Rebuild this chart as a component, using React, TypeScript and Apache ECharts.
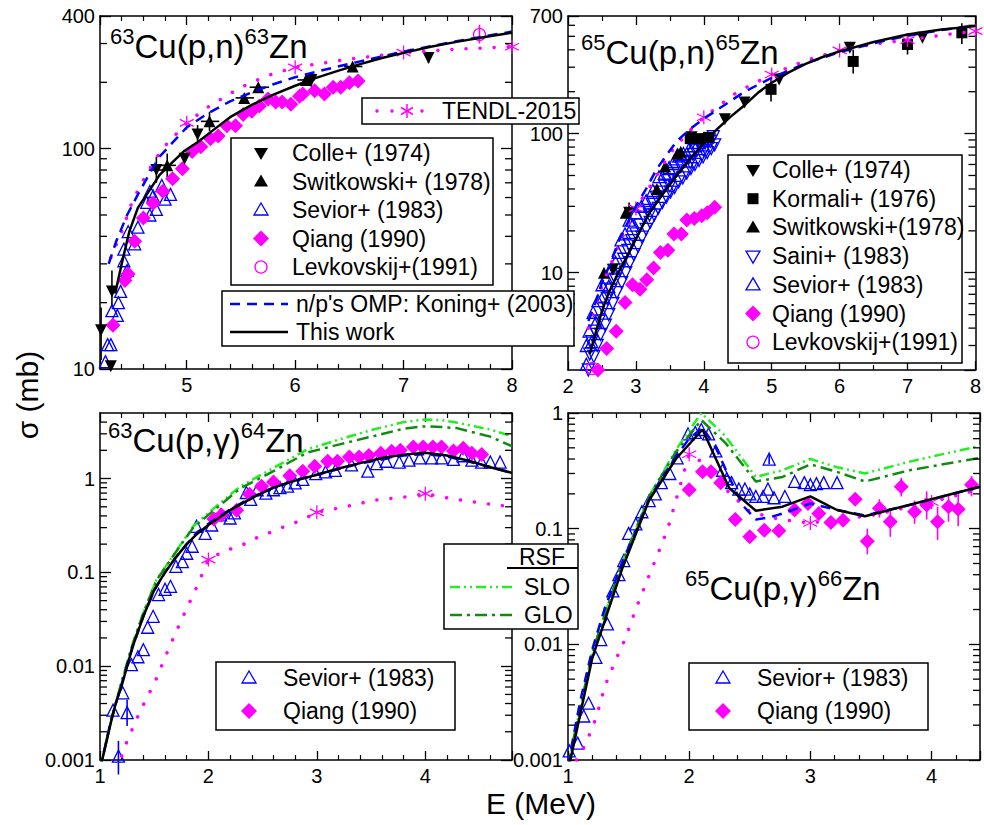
import React, { useEffect, useRef } from 'react';
import * as echarts from 'echarts';

const FONT = '"Liberation Sans", Arial, sans-serif';
const BLUE = '#0000ff';
const MAG = '#ff00ff';
const SLO_C = '#22ee22';
const GLO_C = '#128a12';

// ---------------- axis ranges ----------------
const xMin = [4.2, 2, 1, 1];
const xMax = [8, 8, 4.8, 4.4];
const yMin = [10, 2, 0.001, 0.001];
const yMax = [400, 700, 5, 1];
const xMinorSplit = [5, 2, 5, 5];

// ---------------- Panel 1: 63Cu(p,n)63Zn ----------------
const p1ThisWork = [[4.34,22],[4.4,30],[4.47,42],[4.55,54],[4.65,64],[4.75,76],[4.85,85],[4.97,97],[5.1,107],[5.25,122],[5.4,139],[5.6,158],[5.8,176],[6.0,193],[6.2,210],[6.4,226],[6.6,242],[6.8,258],[7.0,272],[7.25,290],[7.5,306],[7.75,321],[8.0,336]];
const p1Koning = [[4.28,30],[4.35,38],[4.45,50],[4.55,62],[4.65,76],[4.75,92],[4.85,104],[5.0,125],[5.2,145],[5.4,164],[5.6,180],[5.8,196],[6.0,211],[6.3,230],[6.6,249],[7.0,276],[7.5,308],[8.0,340]];
const p1Tendl = [[4.3,32],[4.4,42],[4.5,58],[4.6,72],[4.7,88],[4.8,103],[5.0,131],[5.2,155],[5.5,190],[5.75,215],[6.0,234],[6.5,255],[7.0,273],[7.5,283],[8.0,290]];
const p1TendlMarks = [[5,131],[6,234],[7,273],[8,290]];
const p1Colle = [[4.21,15],[4.3,10.3],[4.31,22.5],[4.72,80],[4.98,90],[5.1,116],[6.15,205],[7.23,258]];
const p1Switkowski = [[4.82,84],[5.21,133],[5.53,170],[5.66,190],[6.1,205],[6.53,236]];
const p1Sevior = [[4.25,10.8],[4.27,12.9],[4.3,12.9],[4.31,18.4],[4.36,17.5],[4.37,20],[4.39,22.5],[4.45,28],[4.42,31],[4.42,35],[4.46,42],[4.52,37],[4.55,44],[4.63,57],[4.66,50],[4.66,64],[4.72,53],[4.77,68],[4.85,62],[4.8,59],[4.69,61]];
const p1Qiang = [[4.32,15.8],[4.43,25.2],[4.46,27],[4.52,38],[4.6,48.5],[4.69,56.5],[4.78,64],[4.87,73],[4.96,81],[5.05,97],[5.13,102],[5.22,111],[5.29,114],[5.37,127],[5.45,127],[5.52,143],[5.6,148],[5.67,156],[5.75,168],[5.82,163],[5.88,163],[5.96,159],[6.04,173],[6.07,177],[6.18,183],[6.27,177],[6.35,190],[6.42,190],[6.5,199],[6.58,203]];
const p1Levkovskij = [[7.7,330]];
const p1ErrV = [[4.21,11,19],[4.31,19,28],[4.72,70,92],[4.82,74,95],[5.1,106,128],[5.21,120,147],[6.15,190,222],[7.23,245,272]];
const p1ErrH = [[4.65,80,4.8],[4.74,84,4.9],[5.13,133,5.3],[5.45,170,5.62],[5.58,190,5.76],[6.02,205,6.18],[6.45,236,6.62]];
const p1LevErr = [[7.7,300,365]];

// ---------------- Panel 2: 65Cu(p,n)65Zn ----------------
const p2ThisWork = [[2.32,2.6],[2.4,3.6],[2.5,5.3],[2.6,7.2],[2.75,10.2],[2.9,14],[3.0,17.5],[3.2,27],[3.4,37],[3.6,50],[3.8,66],[4.0,86],[4.2,108],[4.4,133],[4.6,160],[4.8,197],[5.0,232],[5.25,275],[5.5,317],[5.75,355],[6.0,390],[6.5,455],[7.0,515],[7.5,560],[8.0,592]];
const p2Koning = [[2.3,4.5],[2.4,6],[2.5,8.5],[2.6,11],[2.75,17],[2.9,24],[3.0,30],[3.15,40],[3.3,55],[3.45,70],[3.6,88],[3.8,108],[4.0,128],[4.3,160],[4.6,200],[5.0,252],[5.5,320],[6.0,385],[6.5,445],[7.0,505],[7.5,555],[8.0,600]];
const p2Tendl = [[2.3,4],[2.5,8],[2.75,16],[3.0,29],[3.25,45],[3.5,72],[3.75,100],[4.0,131],[4.5,200],[5.0,266],[5.5,335],[6.0,396],[6.5,440],[7.0,470],[7.5,510],[8.0,545]];
const p2TendlMarks = [[3,29],[4,131],[5,266],[6,396],[7,470],[8,545]];
const p2Colle = [[2.66,10.5],[2.9,27],[3.82,94],[4.31,127],[4.6,167],[5.11,245],[6.15,414],[7.22,488]];
const p2Kormali = [[3.8,92],[3.95,92],[4.07,94],[4.99,208],[6.2,330],[7.0,437],[7.8,530]];
const p2Switkowski = [[2.53,10],[2.85,27],[3.31,40],[3.43,58],[3.61,72],[3.66,74]];
const p2Saini = [[2.30,2.0],[2.32,2.6],[2.35,3.2],[2.38,2.5],[2.40,3.8],[2.43,3.0],[2.46,4.5],[2.48,3.6],[2.52,5.5],[2.55,4.2],[2.58,6.5],[2.60,5.0],[2.63,7.5],[2.66,6.0],[2.70,9.0],[2.72,7.2],[2.76,10.5],[2.79,8.5],[2.82,12.5],[2.85,10.0],[2.88,14.5],[2.91,11.8],[2.94,17],[2.97,13.5],[3.00,19],[3.03,15.5],[3.06,22],[3.09,18],[3.12,25],[3.15,20.5],[3.18,28],[3.21,23],[3.24,31],[3.27,26],[3.30,35],[3.33,29],[3.36,38],[3.39,32],[3.42,42],[3.45,35],[3.48,46],[3.51,38],[3.54,50],[3.57,41],[3.60,54],[3.63,45],[3.66,58],[3.69,48],[3.72,63],[3.75,52],[3.78,67],[3.81,56],[3.84,71],[3.87,60],[3.90,76],[3.93,64],[3.96,81],[3.99,68],[4.02,86],[4.05,73],[4.08,90],[4.11,78],[4.14,95],[4.16,83],[2.9,16],[3.2,26],[3.5,42],[3.8,62],[4.0,75],[4.1,88]];
const p2Sevior = [[2.27,2.2],[2.27,3.0],[2.31,3.8],[2.35,3.2],[2.37,5.2],[2.41,4.4],[2.44,6.3],[2.5,8.2],[2.52,6.8],[2.56,9.3],[2.6,8.0],[2.64,10.8],[2.7,11.9],[2.74,14],[2.78,17.2],[2.84,19],[2.9,23.9],[2.95,22],[3.0,27],[3.08,30],[3.15,33],[3.25,39],[3.34,49],[3.42,52],[3.49,57],[3.56,63],[3.63,69],[3.7,72],[3.78,77],[3.85,82],[3.92,86]];
const p2Qiang = [[2.44,2.0],[2.57,2.86],[2.71,3.8],[2.84,6.1],[2.95,8.2],[3.06,7.6],[3.16,8.9],[3.26,10.8],[3.36,14],[3.47,14.5],[3.56,19],[3.67,19],[3.75,23.9],[3.86,24.5],[3.97,25.7],[4.05,27],[4.16,29.5]];
const p2Levkovskij = [[2.36,2.05]];
const p2ErrV = [[2.9,23,32],[3.8,80,108],[4.99,170,250],[6.2,270,400],[7.0,370,520],[7.8,440,620],[6.15,385,445]];

// ---------------- Panel 3: 63Cu(p,g)64Zn ----------------
const p3ThisWork = [[1.0,0.0008],[1.05,0.0014],[1.1,0.0025],[1.15,0.0042],[1.2,0.0062],[1.3,0.016],[1.4,0.034],[1.5,0.065],[1.6,0.1],[1.7,0.145],[1.8,0.2],[1.9,0.26],[2.0,0.32],[2.2,0.46],[2.4,0.62],[2.6,0.8],[2.8,0.95],[3.0,1.1],[3.2,1.28],[3.4,1.46],[3.6,1.66],[3.8,1.8],[4.0,1.88],[4.2,1.76],[4.4,1.55],[4.6,1.32],[4.8,1.15]];
const p3Koning = [[1.0,0.0008],[1.1,0.0026],[1.2,0.0065],[1.3,0.016],[1.4,0.034],[1.5,0.064],[1.6,0.1],[1.7,0.145],[1.8,0.2],[1.9,0.27],[2.0,0.33],[2.2,0.47],[2.4,0.63],[2.6,0.8],[2.8,0.96],[3.0,1.1],[3.4,1.45],[3.8,1.76],[4.0,1.82],[4.2,1.72],[4.4,1.52],[4.6,1.33],[4.8,1.15]];
const p3Slo = [[1.0,0.0008],[1.1,0.0026],[1.2,0.0068],[1.3,0.017],[1.4,0.037],[1.52,0.083],[1.6,0.113],[1.7,0.167],[1.86,0.31],[2.0,0.43],[2.29,0.82],[2.6,1.3],[2.91,2.04],[3.2,2.6],[3.52,3.33],[3.8,4.0],[3.98,4.25],[4.15,4.2],[4.29,3.95],[4.6,3.33],[4.8,2.83]];
const p3Glo = [[1.0,0.0008],[1.1,0.0026],[1.2,0.0068],[1.3,0.017],[1.4,0.037],[1.52,0.082],[1.6,0.112],[1.7,0.165],[1.86,0.3],[2.0,0.41],[2.29,0.78],[2.6,1.2],[2.91,1.89],[3.2,2.3],[3.52,2.83],[3.8,3.4],[3.98,3.6],[4.15,3.55],[4.29,3.45],[4.6,2.8],[4.8,2.21]];
const p3Tendl = [[1.2,0.0011],[1.25,0.0016],[1.37,0.0033],[1.51,0.0069],[1.63,0.015],[1.75,0.031],[1.88,0.065],[2.0,0.137],[2.15,0.17],[2.29,0.19],[2.43,0.23],[2.57,0.266],[2.71,0.31],[2.86,0.36],[3.0,0.437],[3.26,0.5],[3.54,0.59],[3.83,0.64],[4.0,0.69],[4.24,0.61],[4.51,0.55],[4.8,0.5]];
const p3TendlMarks = [[2,0.137],[3,0.437],[4,0.69]];
const p3Sevior = [[1.12,0.0034],[1.17,0.0011],[1.21,0.0052],[1.25,0.0032],[1.29,0.0104],[1.35,0.0126],[1.4,0.015],[1.44,0.026],[1.49,0.034],[1.54,0.058],[1.6,0.066],[1.65,0.071],[1.7,0.116],[1.76,0.13],[1.8,0.16],[1.85,0.19],[1.89,0.31],[1.97,0.26],[2.03,0.32],[2.11,0.41],[2.2,0.38],[2.24,0.43],[2.35,0.71],[2.39,0.6],[2.45,0.76],[2.53,0.7],[2.6,0.76],[2.66,0.8],[2.73,0.83],[2.8,0.9],[2.87,0.98],[2.99,1.13],[3.08,1.18],[3.17,1.22],[3.32,1.4],[3.47,1.2],[3.55,1.44],[3.64,1.53],[3.76,1.5],[3.85,1.57],[3.95,1.66],[4.06,1.66],[4.15,1.66],[4.26,1.6],[4.35,1.75],[4.43,1.57],[4.52,1.5],[4.6,1.5],[4.69,1.5]];
const p3Qiang = [[2.05,0.37],[2.12,0.41],[2.26,0.46],[2.38,0.68],[2.49,0.83],[2.6,0.92],[2.75,1.07],[2.87,1.2],[2.98,1.35],[3.1,1.53],[3.19,1.53],[3.3,1.7],[3.39,1.7],[3.48,1.76],[3.59,1.86],[3.69,1.95],[3.77,2.0],[3.89,2.17],[3.98,2.17],[4.07,2.17],[4.15,2.17],[4.26,1.97],[4.35,2.1],[4.43,1.86],[4.52,1.81]];
const p3ErrV = [[1.17,0.0007,0.0016],[1.25,0.0023,0.0044]];

// ---------------- Panel 4: 65Cu(p,g)66Zn ----------------
const p4ThisWork = [[1.0,0.0008],[1.2,0.0076],[1.45,0.046],[1.67,0.177],[1.89,0.4],[2.11,0.72],[2.33,0.225],[2.55,0.143],[2.77,0.155],[3.0,0.19],[3.22,0.145],[3.45,0.128],[4.4,0.23]];
const p4Koning = [[1.0,0.0009],[1.1,0.0032],[1.2,0.009],[1.3,0.02],[1.45,0.052],[1.55,0.09],[1.67,0.18],[1.78,0.28],[1.89,0.42],[2.0,0.6],[2.11,0.75],[2.22,0.5],[2.33,0.28],[2.44,0.16],[2.55,0.12],[2.66,0.125],[2.77,0.135],[3.0,0.165],[3.22,0.145],[3.45,0.13],[3.82,0.16],[4.4,0.23]];
const p4Slo = [[1.0,0.0009],[1.2,0.0085],[1.45,0.052],[1.67,0.19],[1.89,0.48],[2.1,1.0],[2.3,0.63],[2.55,0.28],[2.77,0.32],[3.0,0.4],[3.22,0.34],[3.45,0.3],[3.82,0.38],[4.4,0.52]];
const p4Glo = [[1.0,0.0009],[1.2,0.0085],[1.45,0.052],[1.67,0.19],[1.89,0.46],[2.1,0.87],[2.3,0.55],[2.55,0.256],[2.77,0.28],[3.0,0.36],[3.22,0.31],[3.45,0.256],[3.82,0.32],[4.4,0.41]];
const p4Tendl = [[1.07,0.001],[1.15,0.0014],[1.23,0.0023],[1.31,0.0045],[1.4,0.0076],[1.47,0.011],[1.55,0.019],[1.64,0.033],[1.74,0.06],[1.82,0.097],[1.9,0.19],[2.0,0.44],[2.1,0.38],[2.3,0.22],[2.5,0.14],[2.75,0.12],[3.0,0.112],[3.5,0.13],[4.0,0.17],[4.4,0.22]];
const p4TendlMarks = [[2,0.44],[3,0.112],[4,0.17]];
const p4Sevior = [[1.01,0.0012],[1.08,0.0014],[1.13,0.0024],[1.17,0.0031],[1.23,0.0077],[1.27,0.011],[1.325,0.015],[1.37,0.029],[1.42,0.04],[1.46,0.053],[1.5,0.091],[1.56,0.11],[1.61,0.14],[1.67,0.175],[1.72,0.2],[1.77,0.25],[1.84,0.3],[1.9,0.41],[1.99,0.66],[2.05,0.68],[2.1,0.72],[2.16,0.66],[2.22,0.47],[2.275,0.32],[2.31,0.27],[2.35,0.25],[2.41,0.22],[2.46,0.22],[2.5,0.2],[2.55,0.19],[2.61,0.19],[2.65,0.22],[2.66,0.4],[2.7,0.185],[2.79,0.19],[2.87,0.256],[2.95,0.25],[3.0,0.24],[3.05,0.245],[3.11,0.25],[3.22,0.25]];
const p4Qiang = [[2.0,0.217],[2.11,0.31],[2.18,0.31],[2.26,0.25],[2.38,0.12],[2.5,0.085],[2.62,0.097],[2.74,0.096],[2.87,0.145],[2.98,0.165],[3.07,0.135],[3.17,0.113],[3.27,0.118],[3.37,0.18],[3.47,0.078],[3.57,0.15],[3.66,0.115],[3.75,0.23],[3.86,0.14],[3.96,0.16],[4.05,0.115],[4.14,0.155],[4.22,0.147],[4.33,0.24]];
const p4QiangErr = [[3.47,0.06,0.1],[3.57,0.125,0.18],[3.66,0.085,0.15],[3.75,0.19,0.275],[3.86,0.11,0.175],[3.96,0.12,0.21],[4.05,0.08,0.155],[4.14,0.115,0.2],[4.22,0.105,0.2],[4.33,0.19,0.285]];
const p4SeviorErr = [[2.66,0.36,0.44]];

// ---------------- layout ----------------
const grids = [
  { left: 100, top: 16, width: 412, height: 353 },
  { left: 568, top: 16, width: 412, height: 354 },
  { left: 100, top: 413, width: 412, height: 347 },
  { left: 568, top: 413, width: 412, height: 347 },
];

const ASTERISK = 'path://M5,0L5,10M0.67,2.5L9.33,7.5M0.67,7.5L9.33,2.5';

function lineS(data: any, i: number, color: string, width: number, dash: any, z = 5, cap = 'butt') {
  return { type: 'line', data, xAxisIndex: i, yAxisIndex: i, symbol: 'none', showSymbol: false, silent: true, z,
    lineStyle: { color, width, type: dash, cap }, smooth: false };
}
function scat(data: any, i: number, symbol: string, size: number, fill: string, stroke: string | null, rotate = 0, z = 3) {
  return { type: 'scatter', data, xAxisIndex: i, yAxisIndex: i, symbol, symbolSize: size, symbolRotate: rotate, silent: true, z,
    itemStyle: { color: fill, borderColor: stroke || fill, borderWidth: stroke ? 1.3 : 0, opacity: 1 } };
}
function errV(data: any, i: number, color: string) {
  return { type: 'custom', data, xAxisIndex: i, yAxisIndex: i, silent: true, z: 3,
    renderItem: (params: any, api: any) => {
      const a = api.coord([api.value(0), api.value(1)]);
      const b = api.coord([api.value(0), api.value(2)]);
      return { type: 'line', shape: { x1: a[0], y1: a[1], x2: b[0], y2: b[1] }, style: { stroke: color, lineWidth: 1.6 } };
    } };
}
function errH(data: any, i: number, color: string) {
  return { type: 'custom', data, xAxisIndex: i, yAxisIndex: i, silent: true, z: 3,
    renderItem: (params: any, api: any) => {
      const a = api.coord([api.value(0), api.value(1)]);
      const b = api.coord([api.value(2), api.value(1)]);
      return { type: 'line', shape: { x1: a[0], y1: a[1], x2: b[0], y2: b[1] }, style: { stroke: color, lineWidth: 1.6 } };
    } };
}
function logMinorValues(min: number, max: number) {
  const out: number[][] = [];
  for (let e = Math.floor(Math.log10(min)); e <= Math.ceil(Math.log10(max)); e++) {
    for (let m = 2; m <= 9; m++) {
      const v = m * Math.pow(10, e);
      if (v > min * 1.0001 && v < max * 0.9999) out.push([v]);
    }
  }
  return out;
}
function logMinorSide(i: number, right: boolean) {
  return { type: 'custom', xAxisIndex: i, yAxisIndex: i, silent: true, z: 10, clip: false,
    data: logMinorValues(yMin[i], yMax[i]).map((d) => [right ? xMax[i] : xMin[i], d[0]]),
    renderItem: (params: any, api: any) => {
      const a = api.coord([api.value(0), api.value(1)]);
      const L = right ? -7 : 7;
      return { type: 'line', shape: { x1: a[0], y1: a[1], x2: a[0] + L, y2: a[1] }, style: { stroke: '#000', lineWidth: 1.3 } };
    } };
}

// ---------------- graphics helpers ----------------
const ZG = 100;
const LEG_FS = 23;
function box(x: number, y: number, w: number, h: number) {
  return { type: 'rect', z: ZG, shape: { x, y, width: w, height: h }, style: { fill: '#fff', stroke: '#000', lineWidth: 1.5 } };
}
function txt(x: number, y: number, text: string, size = LEG_FS, align = 'left') {
  return { type: 'text', z: ZG + 1, x, y, style: { text, fontSize: size, fontFamily: FONT, fill: '#000', align, verticalAlign: 'middle' } };
}
function seg(x1: number, y1: number, x2: number, y2: number, stroke: string, lw: number, dash?: any) {
  return { type: 'line', z: ZG + 1, shape: { x1, y1, x2, y2 }, style: { stroke, lineWidth: lw, lineDash: dash } };
}
function sym(kind: string, x: number, y: number): any[] {
  switch (kind) {
    case 'tri': return [{ type: 'polygon', z: ZG + 1, shape: { points: [[x, y - 7], [x - 7, y + 5], [x + 7, y + 5]] }, style: { fill: '#000' } }];
    case 'triDown': return [{ type: 'polygon', z: ZG + 1, shape: { points: [[x, y + 7], [x - 7, y - 5], [x + 7, y - 5]] }, style: { fill: '#000' } }];
    case 'triOpen': return [{ type: 'polygon', z: ZG + 1, shape: { points: [[x, y - 7], [x - 7, y + 5], [x + 7, y + 5]] }, style: { fill: 'none', stroke: BLUE, lineWidth: 1.3 } }];
    case 'triDownOpen': return [{ type: 'polygon', z: ZG + 1, shape: { points: [[x, y + 7], [x - 7, y - 5], [x + 7, y - 5]] }, style: { fill: 'none', stroke: BLUE, lineWidth: 1.3 } }];
    case 'diamond': return [{ type: 'polygon', z: ZG + 1, shape: { points: [[x, y - 8], [x + 8, y], [x, y + 8], [x - 8, y]] }, style: { fill: MAG } }];
    case 'circleOpen': return [{ type: 'circle', z: ZG + 1, shape: { cx: x, cy: y, r: 6 }, style: { fill: 'none', stroke: MAG, lineWidth: 1.3 } }];
    case 'square': return [{ type: 'rect', z: ZG + 1, shape: { x: x - 5.5, y: y - 5.5, width: 11, height: 11 }, style: { fill: '#000' } }];
    case 'asterisk': return [
      seg(x, y - 7, x, y + 7, MAG, 1.5), seg(x - 6, y - 3.5, x + 6, y + 3.5, MAG, 1.5), seg(x - 6, y + 3.5, x + 6, y - 3.5, MAG, 1.5)];
    case 'dot': return [{ type: 'circle', z: ZG + 1, shape: { cx: x, cy: y, r: 1.7 }, style: { fill: MAG } }];
  }
  return [];
}
function legend(x: number, y: number, w: number, h: number, rows: string[][], y0: number, dy: number, sx: number, tx: number) {
  const out: any[] = [box(x, y, w, h)];
  rows.forEach((r, k) => {
    out.push(...sym(r[0], sx, y0 + k * dy));
    out.push(txt(tx, y0 + k * dy, r[1]));
  });
  return out;
}
function title(x: number, top: number, a: string, mid: string, b: string, end: string) {
  return { type: 'text', z: 50, x, y: top, style: {
    text: `{s|${a}}{m|${mid}}{s|${b}}{m|${end}}`, verticalAlign: 'top', align: 'left',
    rich: {
      s: { fontSize: 22, fontFamily: FONT, fill: '#000', verticalAlign: 'top', lineHeight: 22 },
      m: { fontSize: 33, fontFamily: FONT, fill: '#000', lineHeight: 42 },
    } } };
}

function buildOption() {
  const xAxis: any[] = [];
  const yAxis: any[] = [];
  for (let i = 0; i < 4; i++) {
    const base: any = {
      type: 'value', gridIndex: i, min: xMin[i], max: xMax[i],
      axisLine: { show: true, onZero: false, lineStyle: { color: '#000', width: 1.5 } },
      axisTick: { show: true, inside: true, length: 9, lineStyle: { color: '#000', width: 1.3 } },
      minorTick: { show: true, splitNumber: xMinorSplit[i], length: 5, lineStyle: { color: '#000', width: 1.2 } },
      splitLine: { show: false }, minorSplitLine: { show: false },
    };
    if (i > 0) base.interval = 1;
    xAxis.push({ ...base, position: 'bottom',
      axisLabel: { show: true, color: '#000', fontSize: 20, fontFamily: FONT, margin: 6,
        showMinLabel: i !== 0, showMaxLabel: i < 2 } });
    yAxis.push({ type: 'log', logBase: 10, gridIndex: i, min: yMin[i], max: yMax[i], position: 'left',
      axisLine: { show: true, onZero: false, lineStyle: { color: '#000', width: 1.5 } },
      axisTick: { show: true, inside: true, length: 11, lineStyle: { color: '#000', width: 1.3 } },
      splitLine: { show: false },
      axisLabel: { show: true, color: '#000', fontSize: 20, fontFamily: FONT, margin: 5,
        showMinLabel: i !== 1, showMaxLabel: i !== 2 } });
  }
  for (let i = 0; i < 4; i++) {
    const bx: any = { ...xAxis[i], position: 'top', axisLabel: { show: false } };
    xAxis.push(bx);
    yAxis.push({ ...yAxis[i], position: 'right', axisLabel: { show: false } });
  }

  const DASH_K = [10, 7];
  const DOT = [0.1, 14];
  const SLO_D = [10, 4, 2, 4, 2, 4];
  const GLO_D = [12, 5, 3, 5];

  const series: any[] = [];
  for (let i = 0; i < 4; i++) series.push(logMinorSide(i, false), logMinorSide(i, true));

  // Panel 1
  series.push(
    errV(p1ErrV, 0, '#000'), errH(p1ErrH, 0, '#000'), errV(p1LevErr, 0, MAG),
    scat(p1Sevior, 0, 'triangle', 12, 'transparent', BLUE),
    scat(p1Qiang, 0, 'diamond', 15, MAG, null),
    scat(p1Colle, 0, 'triangle', 12, '#000', null, 180),
    scat(p1Switkowski, 0, 'triangle', 12, '#000', null),
    scat(p1Levkovskij, 0, 'circle', 12, 'transparent', MAG),
    lineS(p1Tendl, 0, MAG, 3.5, DOT, 5, 'round'),
    scat(p1TendlMarks, 0, ASTERISK, 14, 'transparent', MAG),
    lineS(p1Koning, 0, BLUE, 2.5, DASH_K),
    lineS(p1ThisWork, 0, '#000', 2.5, 'solid', 6),
  );
  // Panel 2
  series.push(
    errV(p2ErrV, 1, '#000'),
    scat(p2Saini, 1, 'triangle', 12, 'transparent', BLUE, 180),
    scat(p2Sevior, 1, 'triangle', 12, 'transparent', BLUE),
    scat(p2Qiang, 1, 'diamond', 15, MAG, null),
    scat(p2Colle, 1, 'triangle', 12, '#000', null, 180),
    scat(p2Kormali, 1, 'rect', 11, '#000', null),
    scat(p2Switkowski, 1, 'triangle', 12, '#000', null),
    scat(p2Levkovskij, 1, 'circle', 12, 'transparent', MAG),
    lineS(p2Tendl, 1, MAG, 3.5, DOT, 5, 'round'),
    scat(p2TendlMarks, 1, ASTERISK, 14, 'transparent', MAG),
    lineS(p2Koning, 1, BLUE, 2.5, DASH_K),
    lineS(p2ThisWork, 1, '#000', 2.5, 'solid', 6),
  );
  // Panel 3
  series.push(
    errV(p3ErrV, 2, BLUE),
    scat(p3Sevior, 2, 'triangle', 12, 'transparent', BLUE),
    scat(p3Qiang, 2, 'diamond', 15, MAG, null),
    lineS(p3Tendl, 2, MAG, 3.5, DOT, 5, 'round'),
    scat(p3TendlMarks, 2, ASTERISK, 14, 'transparent', MAG),
    lineS(p3Slo, 2, SLO_C, 2.5, SLO_D),
    lineS(p3Glo, 2, GLO_C, 2.5, GLO_D),
    lineS(p3Koning, 2, BLUE, 2.5, DASH_K),
    lineS(p3ThisWork, 2, '#000', 2.5, 'solid', 6),
  );
  // Panel 4
  series.push(
    errV(p4QiangErr, 3, MAG), errV(p4SeviorErr, 3, BLUE),
    scat(p4Sevior, 3, 'triangle', 12, 'transparent', BLUE),
    scat(p4Qiang, 3, 'diamond', 15, MAG, null),
    lineS(p4Tendl, 3, MAG, 3.5, DOT, 5, 'round'),
    scat(p4TendlMarks, 3, ASTERISK, 14, 'transparent', MAG),
    lineS(p4Slo, 3, SLO_C, 2.5, SLO_D),
    lineS(p4Glo, 3, GLO_C, 2.5, GLO_D),
    lineS(p4Koning, 3, BLUE, 2.5, DASH_K),
    lineS(p4ThisWork, 3, '#000', 2.5, 'solid', 6),
  );

  const graphic: any[] = [];
  // titles
  graphic.push(title(110, 25, '63', 'Cu(p,n)', '63', 'Zn'));
  graphic.push(title(581, 31, '65', 'Cu(p,n)', '65', 'Zn'));
  graphic.push(title(108, 419, '63', 'Cu(p,\u03b3)', '64', 'Zn'));
  graphic.push(title(685, 567, '65', 'Cu(p,\u03b3)', '66', 'Zn'));
  // axis titles
  graphic.push({ type: 'text', z: 50, x: 27, y: 395, rotation: Math.PI / 2,
    style: { text: '\u03c3 (mb)', fontSize: 30, fontFamily: FONT, fill: '#000', align: 'center', verticalAlign: 'middle' } });
  graphic.push(txt(541, 803, 'E (MeV)', 30, 'center'));

  // Panel 1 legends
  graphic.push(box(362, 98, 217, 26));
  graphic.push(...sym('dot', 377, 111), ...sym('dot', 392, 111), ...sym('asterisk', 407, 111), ...sym('dot', 422, 111));
  graphic.push(txt(442, 111, 'TENDL-2015'));
  graphic.push(...legend(231, 138, 262, 147, [
    ['triDown', 'Colle+ (1974)'], ['tri', 'Switkowski+ (1978)'], ['triOpen', 'Sevior+ (1983)'],
    ['diamond', 'Qiang (1990)'], ['circleOpen', 'Levkovskij+(1991)']], 153, 28.5, 261, 292));
  graphic.push(box(222, 291, 352, 55));
  graphic.push(seg(230, 304, 288, 304, BLUE, 2.5, [10, 7]), txt(296, 304, "n/p's OMP: Koning+ (2003)"));
  graphic.push(seg(230, 332, 288, 332, '#000', 2.5), txt(296, 332, 'This work'));

  // Panel 2 legend
  graphic.push(...legend(728, 155, 234, 208, [
    ['triDown', 'Colle+ (1974)'], ['square', 'Kormali+ (1976)'], ['tri', 'Switkowski+(1978)'],
    ['triDownOpen', 'Saini+ (1983)'], ['triOpen', 'Sevior+ (1983)'], ['diamond', 'Qiang (1990)'],
    ['circleOpen', 'Levkovskij+(1991)']], 170, 28.7, 753, 772));

  // Panel 3 legend
  graphic.push(...legend(216, 662, 239, 68, [['triOpen', 'Sevior+ (1983)'], ['diamond', 'Qiang (1990)']], 678, 33, 249, 283));
  // RSF legend
  graphic.push(box(444, 544, 134, 85));
  graphic.push(txt(542, 557, 'RSF', LEG_FS, 'center'));
  graphic.push(seg(507, 568, 578, 568, '#000', 2));
  graphic.push(seg(450, 587, 513, 587, SLO_C, 2.5, SLO_D), txt(524, 587, 'SLO'));
  graphic.push(seg(450, 615, 513, 615, GLO_C, 2.5, GLO_D), txt(524, 615, 'GLO'));
  // Panel 4 legend
  graphic.push(...legend(689, 663, 239, 67, [['triOpen', 'Sevior+ (1983)'], ['diamond', 'Qiang (1990)']], 678, 33, 723, 757));

  return {
    animation: false,
    backgroundColor: '#fff',
    textStyle: { fontFamily: FONT },
    grid: grids.map((g) => ({ ...g, containLabel: false })),
    xAxis, yAxis, series, graphic,
  };
}

export default function App() {
  const ref = useRef<HTMLDivElement>(null);
  useEffect(() => {
    const chart = echarts.init(ref.current as HTMLDivElement, null, { renderer: 'svg' });
    chart.setOption(buildOption() as any);
    return () => chart.dispose();
  }, []);
  return <div ref={ref} style={{ position: 'absolute', left: 0, top: 0, width: 984, height: 825 }} />;
}
